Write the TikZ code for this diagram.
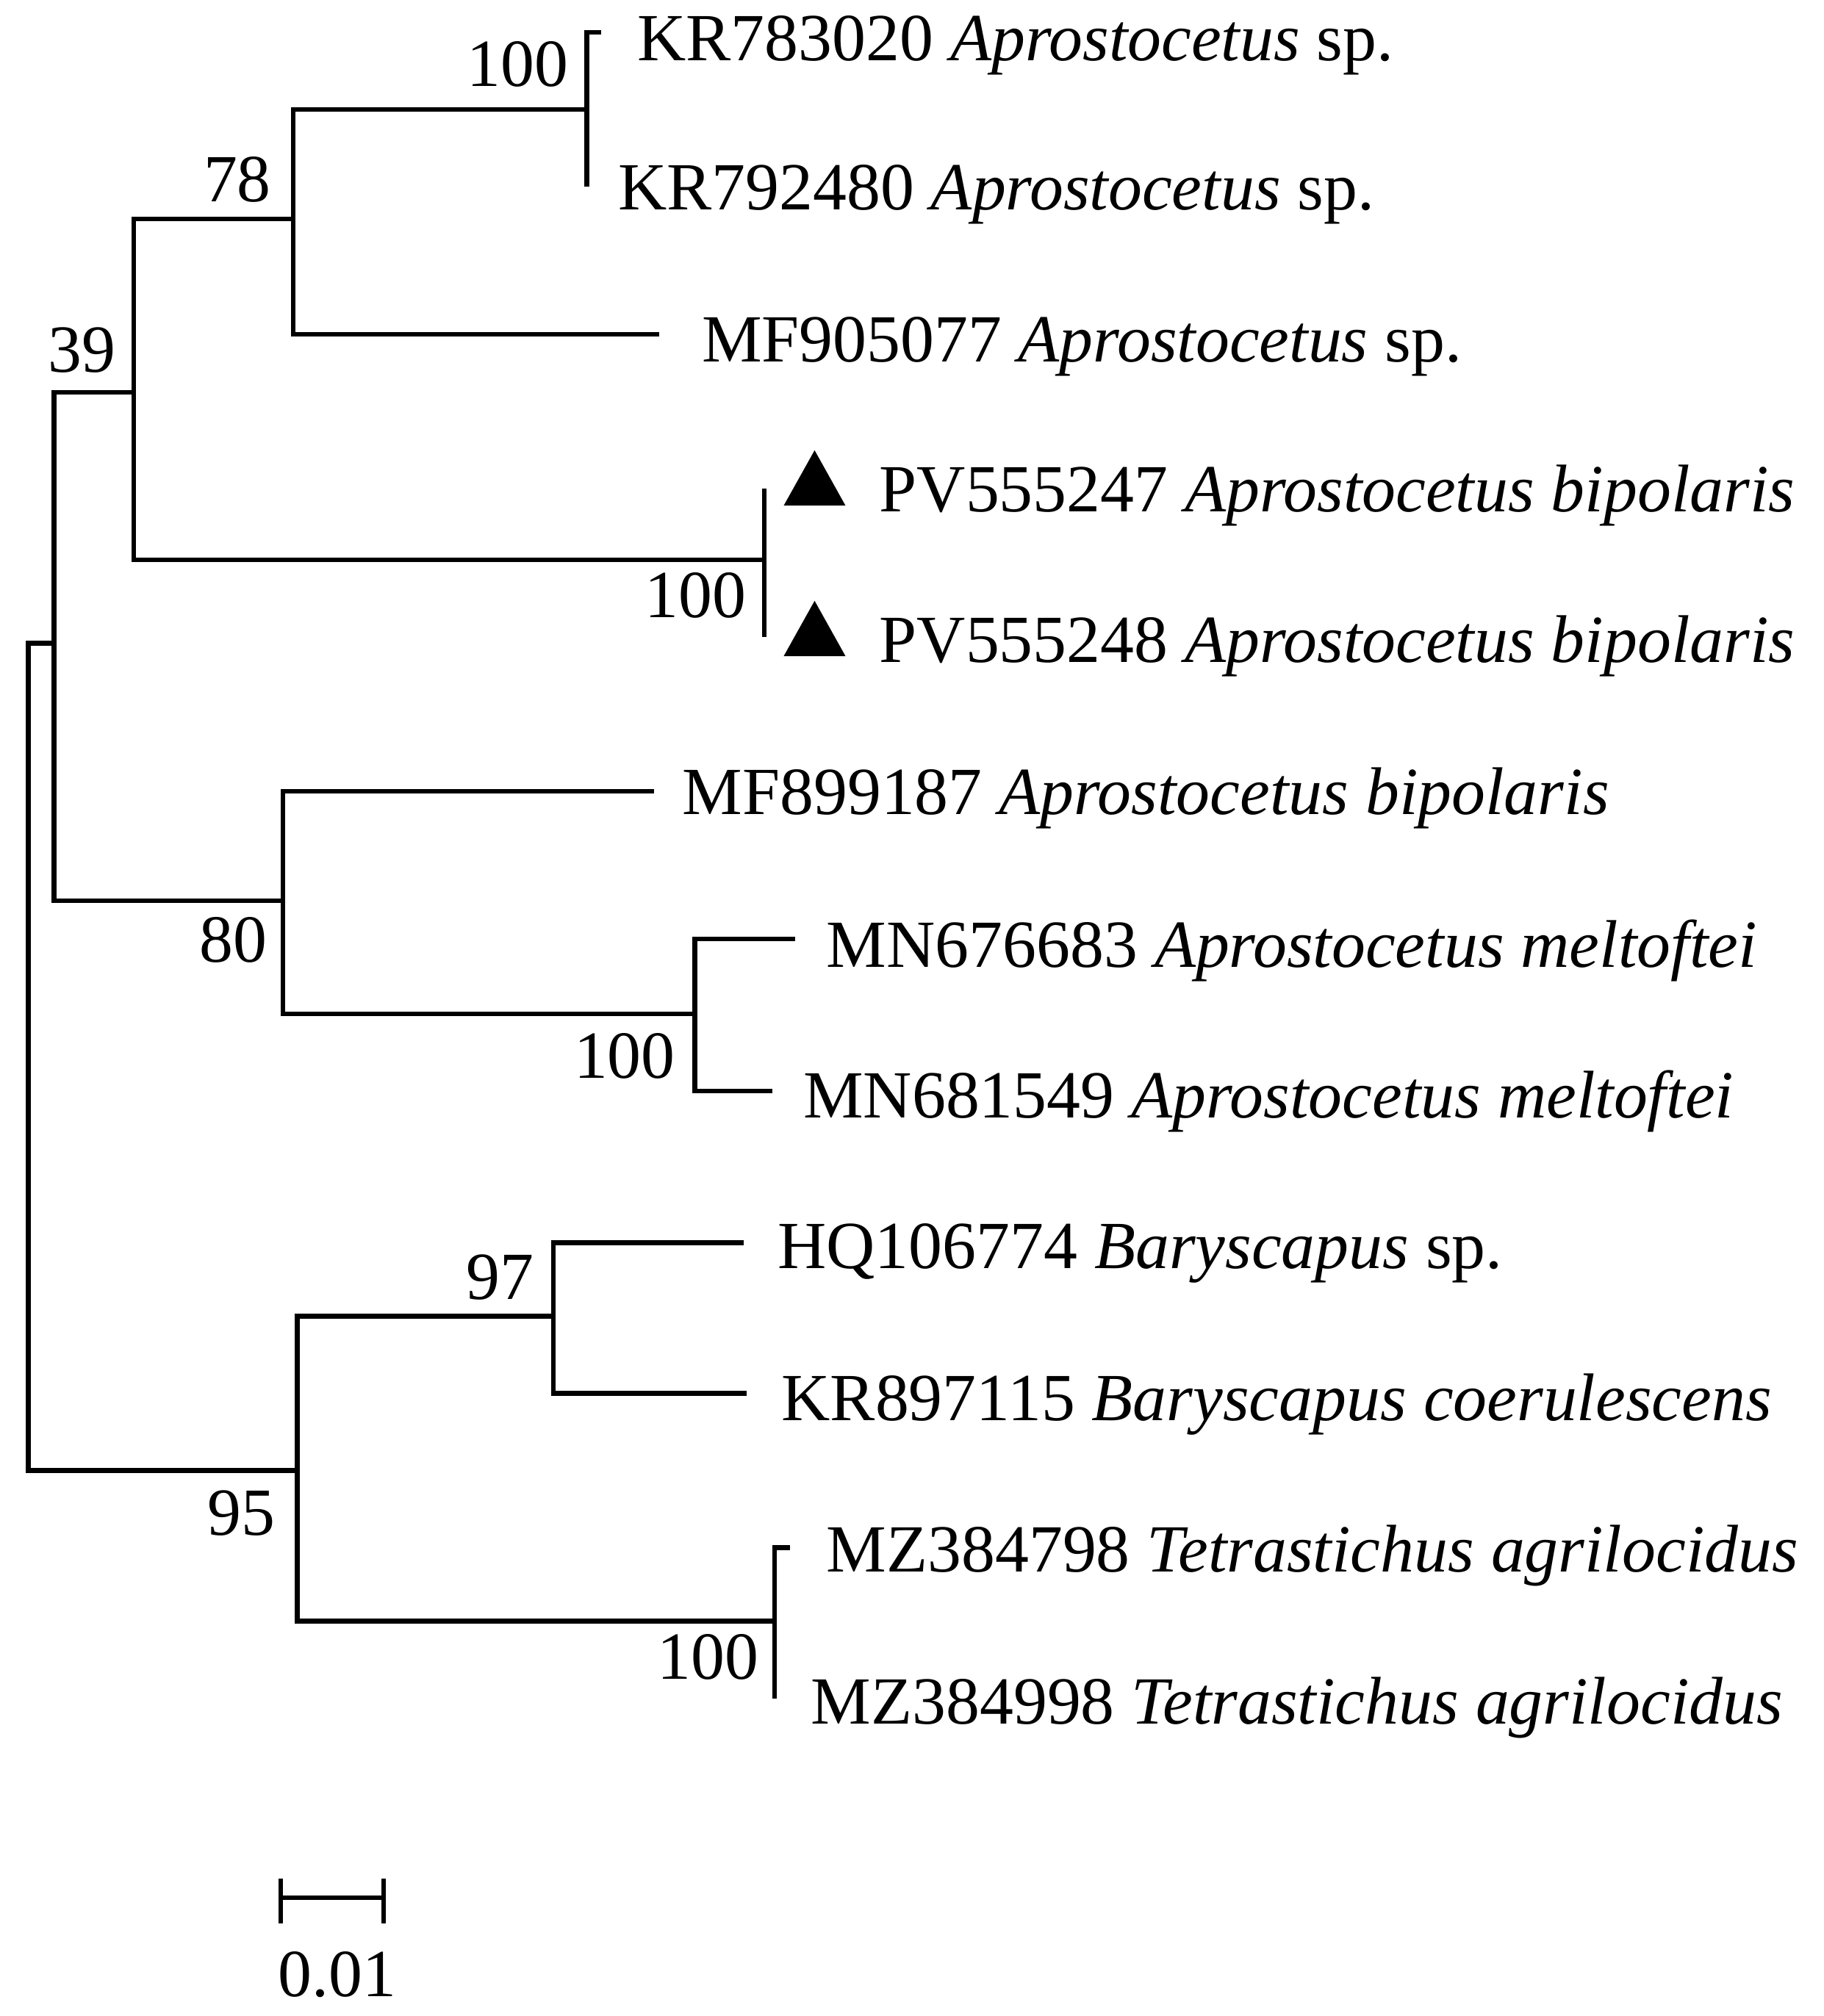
\documentclass[tikz,border=0pt]{standalone}
\usepackage{fontspec}
\setmainfont{Liberation Serif}
\begin{document}
\begin{tikzpicture}[x=0.5pt,y=-0.5pt,
  br/.style={line width=1.8pt,line join=miter},
  lbl/.style={anchor=base west,inner sep=0pt,font=\fontsize{26.2pt}{30pt}\selectfont},
  bs/.style={anchor=base east,inner sep=0pt,font=\fontsize{26.2pt}{30pt}\selectfont},
  tri/.style={fill=black}]
\useasboundingbox (0,0) rectangle (1417,1567);
% internal nodes
\coordinate (R) at (22,821);
\coordinate (A) at (42,500);
\coordinate (B) at (104,305);
\coordinate (C) at (228,170);
\coordinate (D) at (456,85);
\coordinate (E) at (594,435);
\coordinate (F) at (220,700);
\coordinate (G) at (540,788);
\coordinate (H) at (231,1143);
\coordinate (I) at (430,1023);
\coordinate (J) at (602,1260);
% leaf ends
\coordinate (l1) at (467,25);
\coordinate (l2) at (456,145);
\coordinate (l3) at (512,260);
\coordinate (l4) at (594,380);
\coordinate (l5) at (594,495);
\coordinate (l6) at (508,615);
\coordinate (l7) at (618,730);
\coordinate (l8) at (600,848);
\coordinate (l9) at (578,966);
\coordinate (l10) at (580,1083);
\coordinate (l11) at (614,1203);
\coordinate (l12) at (602,1320);
% branches
\draw[br] (R) |- (A); \draw[br] (R) |- (H);
\draw[br] (A) |- (B); \draw[br] (A) |- (F);
\draw[br] (B) |- (C); \draw[br] (B) |- (E);
\draw[br] (C) |- (D); \draw[br] (C) |- (l3);
\draw[br] (D) |- (l1); \draw[br] (D) |- (l2);
\draw[br] (E) |- (l4); \draw[br] (E) |- (l5);
\draw[br] (F) |- (l6); \draw[br] (F) |- (G);
\draw[br] (G) |- (l7); \draw[br] (G) |- (l8);
\draw[br] (H) |- (I); \draw[br] (H) |- (J);
\draw[br] (I) |- (l9); \draw[br] (I) |- (l10);
\draw[br] (J) |- (l11); \draw[br] (J) |- (l12);
% leaf labels
\node[lbl] (t1) at (495,47) {KR783020 \textit{Aprostocetus} sp.};
\node[lbl] (t2) at (480,163) {KR792480 \textit{Aprostocetus} sp.};
\node[lbl] (t3) at (545,281) {MF905077 \textit{Aprostocetus} sp.};
\node[lbl] (t4) at (683,398) {PV555247 \textit{Aprostocetus bipolaris}};
\node[lbl] (t5) at (683,515) {PV555248 \textit{Aprostocetus bipolaris}};
\node[lbl] (t6) at (530,633) {MF899187 \textit{Aprostocetus bipolaris}};
\node[lbl] (t7) at (642,752) {MN676683 \textit{Aprostocetus meltoftei}};
\node[lbl] (t8) at (624,869) {MN681549 \textit{Aprostocetus meltoftei}};
\node[lbl] (t9) at (604,986) {HQ106774 \textit{Baryscapus} sp.};
\node[lbl] (t10) at (607,1104) {KR897115 \textit{Baryscapus coerulescens}};
\node[lbl] (t11) at (642,1222) {MZ384798 \textit{Tetrastichus agrilocidus}};
\node[lbl] (t12) at (630,1340) {MZ384998 \textit{Tetrastichus agrilocidus}};
% triangles
\fill[tri] (609,393) -- (657,393) -- (633,350) -- cycle;
\fill[tri] (609,510) -- (657,510) -- (633,467) -- cycle;
% bootstrap values
\node[bs] (bD) at (442,67) {100};
\node[bs] (bC) at (211,157) {78};
\node[bs] (bB) at (90,289) {39};
\node[bs] (bE) at (580,480) {100};
\node[bs] (bF) at (208,748) {80};
\node[bs] (bG) at (525,838) {100};
\node[bs] (bI) at (415,1010) {97};
\node[bs] (bH) at (214,1193) {95};
\node[bs] (bJ) at (590,1305) {100};
% scale bar
\coordinate (s1) at (218,1475);
\coordinate (s2) at (298,1475);
\draw[br] (s1) -- (s2);
\draw[br] ([yshift=7.5pt]s1) -- ([yshift=-10pt]s1);
\draw[br] ([yshift=7.5pt]s2) -- ([yshift=-10pt]s2);
\node[anchor=base,inner sep=0pt,font=\fontsize{26.2pt}{30pt}\selectfont] (sc) at (262,1552) {0.01};
\end{tikzpicture}
\end{document}
